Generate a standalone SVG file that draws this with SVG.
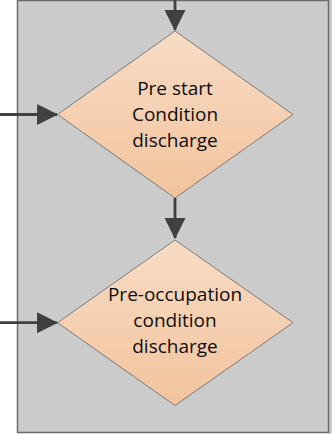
<svg xmlns="http://www.w3.org/2000/svg" width="332" height="434" viewBox="0 0 332 434">
<style>
.lane{fill:#cbcbcb;stroke:#6b6b6b;stroke-width:1.5}
.dia{fill:url(#g);stroke:#7a7a7a;stroke-width:1}
.lbl{font-family:"Open Sans","Noto Sans",sans-serif;font-size:19px;fill:#0d0d0d;text-anchor:middle}
.con{stroke:#404040;stroke-width:2.8;fill:none;marker-end:url(#ah)}
</style>
<defs>
<linearGradient id="g" x1="0" y1="0" x2="0" y2="1">
<stop offset="0" stop-color="#f9dcc5"/>
<stop offset="1" stop-color="#f2c39d"/>
</linearGradient>
<marker id="ah" markerUnits="userSpaceOnUse" markerWidth="21" markerHeight="21" refX="19" refY="10" orient="auto" viewBox="0 0 20 20">
<path d="M0,0 L20,10 L0,20 Z" fill="#404040"/>
</marker>
</defs>
<rect x="0" y="0" width="332" height="434" fill="#ffffff"/>
<rect x="329" y="0" width="3" height="434" fill="#cccccc"/>
<rect class="lane" x="17.5" y="0.5" width="311" height="432"/>
<g id="d1">
<polygon class="dia" points="175,31 293,114.5 175,198 57.5,114.5"/>
<text class="lbl" x="175" y="94.5">Pre start</text>
<text class="lbl" x="175" y="120.5">Condition</text>
<text class="lbl" x="175" y="146.5">discharge</text>
</g>
<g id="d2">
<polygon class="dia" points="175,240 293,322.7 175,405.5 57.5,322.7"/>
<text class="lbl" x="175" y="300.7">Pre-occupation</text>
<text class="lbl" x="175" y="326.7">condition</text>
<text class="lbl" x="175" y="352.7">discharge</text>
</g>
<g id="connectors">
<line class="con" x1="175" y1="0" x2="175" y2="30"/>
<line class="con" x1="0" y1="114.5" x2="57" y2="114.5"/>
<line class="con" x1="175" y1="198" x2="175" y2="238"/>
<line class="con" x1="0" y1="322.7" x2="57" y2="322.7"/>
</g>
</svg>
